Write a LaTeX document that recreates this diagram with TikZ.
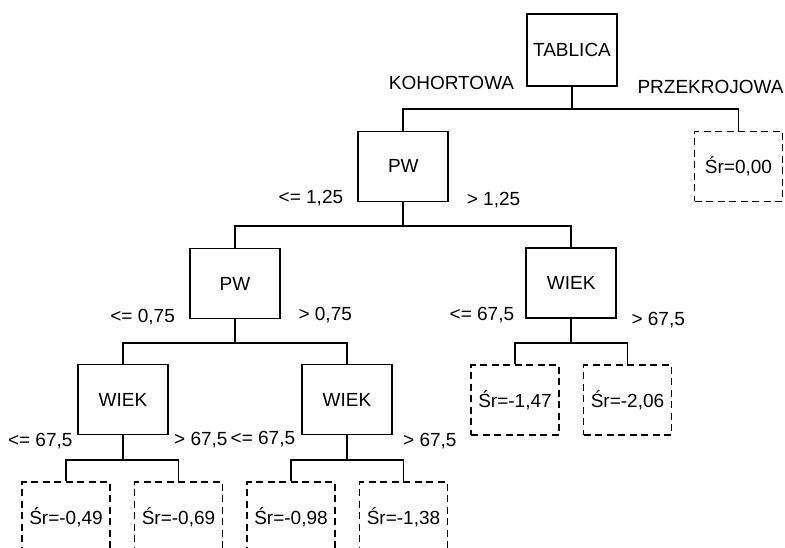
\documentclass[tikz,border=0pt]{standalone}
\usepackage{fontspec}
\setmainfont{Liberation Sans}
\begin{document}
\begin{tikzpicture}[x=1pt,y=-1pt,
  font=\fontsize{19}{22}\selectfont,
  line width=1.7pt,
  box/.style={draw, minimum width=90pt, minimum height=70pt, inner sep=0pt, line width=1.7pt},
  leaf/.style={box, minimum width=88pt, dash pattern=on 7pt off 4.5pt},
  lbl/.style={inner sep=0pt}]
\useasboundingbox (0,0) rectangle (785,548);
\clip (0,0) rectangle (785,548);

% decision nodes
\node[box, minimum height=72pt] (root) at (572,50) {TABLICA};
\node[box] (pw1) at (403.3,166.4) {PW};
\node[box] (pw2) at (235,283.5) {PW};
\node[box] (wiekR) at (571.2,283.3) {WIEK};
\node[box] (wiekA) at (123,399.5) {WIEK};
\node[box] (wiekB) at (347,399.5) {WIEK};

% leaves
\node[leaf] (l0) at (738.5,166.4) {Śr=0,00};
\node[leaf] (l5) at (515,400) {Śr=-1,47};
\node[leaf] (l6) at (627.5,400) {Śr=-2,06};
\node[leaf] (l1) at (66,517) {Śr=-0,49};
\node[leaf] (l2) at (178.5,517) {Śr=-0,69};
\node[leaf] (l3) at (291,517) {Śr=-0,98};
\node[leaf] (l4) at (403.5,517) {Śr=-1,38};

% connectors
\draw (root.south) -- ++(0,22) -| (pw1.north);
\draw (root.south) -- ++(0,22) -| (l0.north);
\draw (pw1.south) -- ++(0,23.6) -| (pw2.north);
\draw (pw1.south) -- ++(0,23.6) -| (wiekR.north);
\draw (pw2.south) -- ++(0,23.5) -| (wiekA.north);
\draw (pw2.south) -- ++(0,23.5) -| (wiekB.north);
\draw (wiekR.south) -- ++(0,24) -| (l5.north);
\draw (wiekR.south) -- ++(0,24) -| (l6.north);
\draw (wiekA.south) -- ++(0,24.5) -| (l1.north);
\draw (wiekA.south) -- ++(0,24.5) -| (l2.north);
\draw (wiekB.south) -- ++(0,24.5) -| (l3.north);
\draw (wiekB.south) -- ++(0,24.5) -| (l4.north);

% branch labels
\node[lbl, anchor=base east] (t1) at (515,90) {KOHORTOWA};
\node[lbl, anchor=base west] (t2) at (636.7,94) {PRZEKROJOWA};
\node[lbl, anchor=base east] (t3) at (344,203.4) {<= 1,25};
\node[lbl, anchor=base west] (t4) at (466,206) {> 1,25};
\node[lbl, anchor=base east] (t5) at (175.7,322.4) {<= 0,75};
\node[lbl, anchor=base west] (t6) at (297.7,320) {> 0,75};
\node[lbl, anchor=base east] (t7) at (515,320) {<= 67,5};
\node[lbl, anchor=base west] (t8) at (630.7,326) {> 67,5};
\node[lbl, anchor=base east] (t9) at (73.3,446.7) {<= 67,5};
\node[lbl, anchor=base west] (t10) at (173.3,445.4) {> 67,5};
\node[lbl, anchor=base east] (t11) at (296,444.4) {<= 67,5};
\node[lbl, anchor=base west] (t12) at (402.3,446.7) {> 67,5};
\end{tikzpicture}
\end{document}
